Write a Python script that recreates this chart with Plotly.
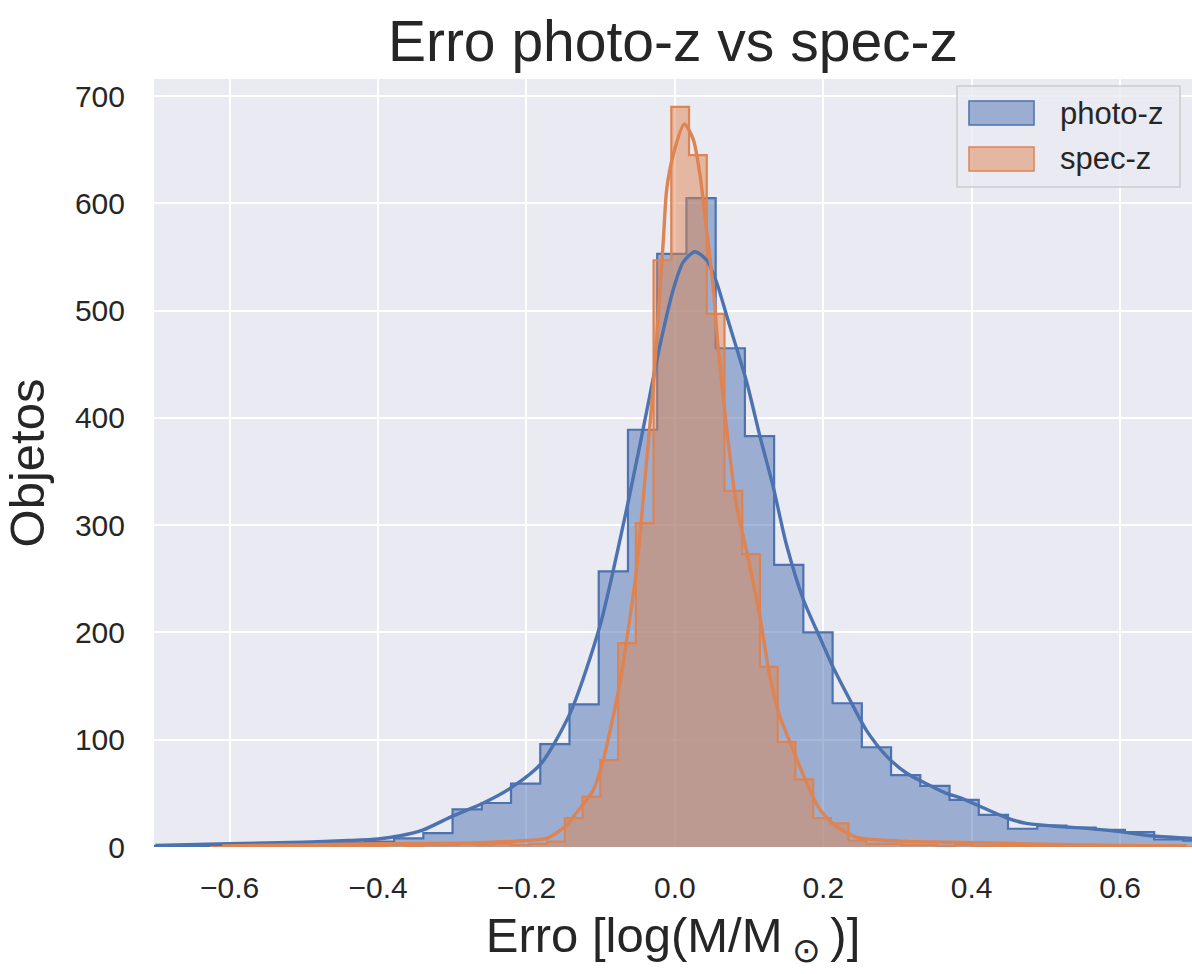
import numpy as np
import plotly.graph_objects as go

# ---------------- data ----------------
PHOTO_FIRST_EDGE = -0.733
PHOTO_BIN_WIDTH = 0.0394
PHOTO_COUNTS = [1, 1, 1, 2, 2, 3, 3, 4, 5, 8, 13,
                35, 41, 59, 96, 133, 257, 389, 553, 605, 465,
                383, 263, 200, 134, 93, 67, 57, 44, 30, 17,
                20, 18, 16, 14, 7, 6]

SPEC_FIRST_EDGE = -0.6262
SPEC_BIN_WIDTH = 0.0239
SPEC_COUNTS = [0, 1, 0, 1, 1, 0, 1, 1, 1, 1, 2, 1, 2, 2, 3, 2, 3, 2, 3, 5,
               27, 47, 81, 190, 302, 547, 690, 645, 497, 332,
               273, 168, 98, 63, 27, 22, 6,
               3, 3, 2, 2, 1, 2, 1, 1, 1, 1, 0, 1, 1, 0, 1, 0, 1, 1, 0]

PHOTO_KDE_X = [-0.700, -0.600, -0.500, -0.440, -0.400, -0.370, -0.339, -0.299, -0.258,
               -0.219, -0.180, -0.141, -0.101, -0.061, -0.034, -0.020, -0.002,
               0.011, 0.027, 0.043, 0.056, 0.070, 0.081, 0.097, 0.115, 0.1325,
               0.150, 0.173, 0.195, 0.213, 0.236, 0.258, 0.285, 0.312, 0.339,
               0.366, 0.384, 0.411, 0.448, 0.474, 0.510, 0.555, 0.600, 0.645,
               0.697]
PHOTO_KDE_Y = [1.5, 3, 4.5, 6, 7.5, 10.5, 16, 29, 41,
               56, 78, 125, 206, 328, 420, 468, 520,
               545, 555, 547, 527, 495, 470, 433, 382, 336,
               283, 231, 196, 168, 137, 109, 85, 69, 59,
               50, 46, 38, 27, 22, 19.6, 17.4, 14.3, 10.3,
               8]

SPEC_KDE_X = [-0.610, -0.500, -0.397, -0.263, -0.200, -0.173, -0.148, -0.128,
              -0.110, -0.0966, -0.083, -0.074, -0.0516, -0.040, -0.029, -0.020,
              -0.0154, -0.011, -0.0023, 0.0127, 0.0247, 0.034, 0.0427, 0.052,
              0.058, 0.070, 0.0832, 0.097, 0.1146, 0.128, 0.1415, 0.159, 0.1775,
              0.1954, 0.218, 0.245, 0.276, 0.321, 0.411, 0.500, 0.600, 0.690]
SPEC_KDE_Y = [1, 2, 3, 4, 6, 8, 19, 36,
              53, 81, 122, 153, 259, 345, 430, 520,
              567, 613, 645, 674, 660, 626, 576, 520,
              468, 389, 318, 275, 215, 159, 122, 91, 60,
              35, 19, 9, 6.5, 5, 4, 2.5, 1.5, 1]

X_TICKS = [-0.6, -0.4, -0.2, 0.0, 0.2, 0.4, 0.6]
Y_TICKS = [0, 100, 200, 300, 400, 500, 600, 700]
X_RANGE = [-0.702, 0.697]
Y_RANGE = [0, 716]
SERIES_NAMES = ["photo-z", "spec-z"]

# ---------------- styles ----------------
BLUE = "#4C72B0"
ORANGE = "#DD8452"
BLUE_FILL = "rgba(76,114,176,0.5)"
ORANGE_FILL = "rgba(221,132,82,0.5)"
TEXT = "#262626"
FONT = "Liberation Sans, Arial, DejaVu Sans, sans-serif"

W, H = 1192, 974
M_L, M_R, M_T, M_B = 154, 0, 79, 127
PW, PH = W - M_L - M_R, H - M_T - M_B


def px_x(px):
    return (px - M_L) / PW


def px_y(py):
    return (H - M_B - py) / PH


def step_xy(first_edge, width, counts):
    edges = first_edge + width * np.arange(len(counts) + 1)
    ys = list(counts) + [counts[-1]]
    return edges, ys


fig = go.Figure()

px_, py_ = step_xy(PHOTO_FIRST_EDGE, PHOTO_BIN_WIDTH, PHOTO_COUNTS)
fig.add_trace(go.Scatter(x=px_, y=py_, mode="lines", line_shape="hv",
                         line=dict(color=BLUE, width=2.2), fill="tozeroy",
                         fillcolor=BLUE_FILL, name=SERIES_NAMES[0], showlegend=False))
sx_, sy_ = step_xy(SPEC_FIRST_EDGE, SPEC_BIN_WIDTH, SPEC_COUNTS)
fig.add_trace(go.Scatter(x=sx_, y=sy_, mode="lines", line_shape="hv",
                         line=dict(color=ORANGE, width=2.2), fill="tozeroy",
                         fillcolor=ORANGE_FILL, name=SERIES_NAMES[1], showlegend=False))
fig.add_trace(go.Scatter(x=PHOTO_KDE_X, y=PHOTO_KDE_Y, mode="lines",
                         line=dict(color=BLUE, width=3.4, shape="spline", smoothing=0.7),
                         name=SERIES_NAMES[0] + " KDE", showlegend=False))
fig.add_trace(go.Scatter(x=SPEC_KDE_X, y=SPEC_KDE_Y, mode="lines",
                         line=dict(color=ORANGE, width=3.4, shape="spline", smoothing=0.7),
                         name=SERIES_NAMES[1] + " KDE", showlegend=False))

# ---------------- manual legend (matplotlib style) ----------------
shapes = [dict(type="rect", xref="paper", yref="paper",
               x0=px_x(957), x1=px_x(1180), y0=px_y(187), y1=px_y(86),
               fillcolor="rgba(234,234,242,0.8)", line=dict(color="#CCCCCC", width=1.5),
               layer="above")]
annotations = []
for i, (name, fc, lc) in enumerate(zip(SERIES_NAMES, [BLUE_FILL, ORANGE_FILL], [BLUE, ORANGE])):
    cy = 113 + i * 46
    shapes.append(dict(type="rect", xref="paper", yref="paper",
                       x0=px_x(969), x1=px_x(1034), y0=px_y(cy + 12), y1=px_y(cy - 12),
                       fillcolor=fc, line=dict(color=lc, width=1.5), layer="above"))
    annotations.append(dict(xref="paper", yref="paper", x=px_x(1058), y=px_y(cy),
                            xanchor="left", yanchor="middle", showarrow=False,
                            text=name, font=dict(size=31, color=TEXT, family=FONT)))

fig.update_layout(
    width=W, height=H,
    margin=dict(l=M_L, r=M_R, t=M_T, b=M_B),
    paper_bgcolor="white", plot_bgcolor="#EAEAF2",
    font=dict(family=FONT, color=TEXT),
    title=dict(text="Erro photo-z vs spec-z", x=0.5, xref="paper", xanchor="center",
               y=1 - 41 / H, yref="container", yanchor="middle",
               font=dict(size=57, color=TEXT, family=FONT)),
    shapes=shapes, annotations=annotations,
    showlegend=False,
)
fig.update_xaxes(range=X_RANGE, tickvals=X_TICKS, tickformat=".1f",
                 showgrid=True, gridcolor="white", gridwidth=2, zeroline=False,
                 showline=False, ticks="", tickfont=dict(size=30, color=TEXT),
                 ticklabelstandoff=20,
                 title=dict(text="Erro [log(M/M<sub> ⊙ </sub>)]",
                            font=dict(size=49, color=TEXT), standoff=14))
fig.update_yaxes(range=Y_RANGE, tickvals=Y_TICKS,
                 showgrid=True, gridcolor="white", gridwidth=2, zeroline=False,
                 showline=False, ticks="", tickfont=dict(size=30, color=TEXT),
                 ticklabelstandoff=28,
                 title=dict(text="Objetos", font=dict(size=49, color=TEXT), standoff=14))

fig.write_html("out.html")
